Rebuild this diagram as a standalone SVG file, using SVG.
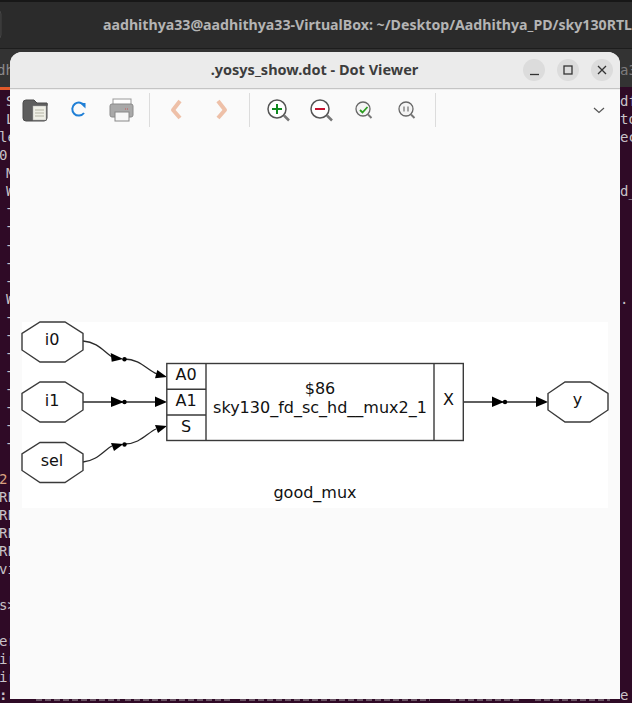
<svg xmlns="http://www.w3.org/2000/svg" width="632" height="703" viewBox="0 0 632 703">
<style>
.term{font-family:"DejaVu Sans Mono","Liberation Mono",monospace;font-size:14px;fill:#c9c3c8}
.g{font-family:"DejaVu Sans",sans-serif;font-size:16px;fill:#111;text-anchor:middle}
.n{fill:#fff;stroke:#3a3a3a;stroke-width:1.4}
.e{fill:none;stroke:#2a2a2a;stroke-width:1.3}
.ah{fill:#000}
.sep{stroke:#dcdcdc;stroke-width:1}
.wb{fill:#dcdcdc}
.wi{fill:none;stroke:#333;stroke-width:1.3}
</style>
<rect width="632" height="703" fill="#2f0a26"/>
<rect width="632" height="48" fill="#2b2b2b"/>
<rect width="632" height="2" fill="#171717"/>
<rect x="-8" y="10" width="9" height="29" rx="4" fill="#333" stroke="#444"/>
<rect y="48" width="632" height="1" fill="#1d1d1d"/>
<rect y="49" width="632" height="38" fill="#333333"/>
<rect y="87" width="10" height="3" fill="#e0592a"/>
<text x="103" y="30" font-family="Noto Sans, Open Sans, sans-serif" font-weight="700" font-size="14" fill="#b4b4b4" textLength="529" lengthAdjust="spacingAndGlyphs">aadhithya33@aadhithya33-VirtualBox: ~/Desktop/Aadhithya_PD/sky130RTL</text>
<g id="terminal-left">
<text class="term" x="-3" y="75" fill-opacity="0.6">dh</text>
<text class="term" x="6" y="106">S</text>
<text class="term" x="6" y="124">L</text>
<text class="term" x="-1" y="142">le</text>
<text class="term" x="-1" y="160">0</text>
<text class="term" x="6" y="178">M</text>
<text class="term" x="6" y="196">W</text>
<text class="term" x="5" y="213">-</text>
<text class="term" x="5" y="231">-</text>
<text class="term" x="5" y="250">-</text>
<text class="term" x="5" y="268">-</text>
<text class="term" x="5" y="286">-</text>
<text class="term" x="6" y="304">W</text>
<text class="term" x="5" y="322">-</text>
<text class="term" x="5" y="340">-</text>
<text class="term" x="5" y="358">-</text>
<text class="term" x="5" y="376">-</text>
<text class="term" x="5" y="394">-</text>
<text class="term" x="5" y="412">-</text>
<text class="term" x="5" y="430">-</text>
<text class="term" x="5" y="448">-</text>
<text class="term" x="-1" y="484" style="fill:#d9a080">2</text>
<text class="term" x="-1" y="502">RE</text>
<text class="term" x="-1" y="520">RE</text>
<text class="term" x="-1" y="538">RE</text>
<text class="term" x="-1" y="556">RE</text>
<text class="term" x="-1" y="574">vi</text>
<text class="term" x="-1" y="610">s&gt;</text>
<text class="term" x="-1" y="646">er</text>
<text class="term" x="-1" y="664">ir</text>
<text class="term" x="-1" y="682">ir</text>
<text class="term" x="-1" y="700" font-weight="700">:</text>
</g>
<g id="terminal-right">
<text class="term" x="620" y="75" fill-opacity="0.5">a3</text>
<text class="term" x="620" y="106">df</text>
<text class="term" x="620" y="124">to</text>
<text class="term" x="620" y="142">ec</text>
<text class="term" x="620" y="196">d_</text>
<text class="term" x="620" y="304">.</text>
<text class="term" x="620" y="700">e /</text>
</g>
<path d="M36 700H120M125 700H230M240 700H430M450 700H520M535 700H610" stroke="#a99fa6" stroke-width="1.200" stroke-dasharray="6 3" fill="none"/>
<g id="window">
<path d="M10 699V64a12 12 0 0 1 12-12H608a12 12 0 0 1 12 12V699Z" fill="#fafafa"/>
<path d="M10 88V64a12 12 0 0 1 12-12H608a12 12 0 0 1 12 12V88Z" fill="#ebebeb"/>
<rect x="10" y="88" width="610" height="1.2" fill="#c4c4c4"/>
<text x="314.500" y="75" text-anchor="middle" font-family="Noto Sans, Open Sans, sans-serif" font-weight="700" font-size="14.500" fill="#3d3d3d">.yosys_show.dot - Dot Viewer</text>
<circle class="wb" cx="534" cy="70" r="11"/><circle class="wb" cx="568" cy="70" r="11"/><circle class="wb" cx="602" cy="70" r="11"/>
<path class="wi" d="M530 74.500H539"/>
<rect class="wi" x="564" y="66" width="8" height="8"/>
<path class="wi" d="M598 66L606 74M606 66L598 74"/>
</g>
<g id="toolbar">
<path d="M23 103a3 3 0 0 1 3-3h8l3 3h10a3 3 0 0 1 0 3v12a3 3 0 0 1-3 3H26a3 3 0 0 1-3-3Z" fill="#5e5e5e" stroke="#4a4a4a"/>
<rect x="33" y="106" width="13" height="14" fill="#efefe6" stroke="#aaa" stroke-width="0.5"/>
<path d="M35 110h9M35 113h9M35 116h9" stroke="#b5b5a5"/>
<path d="M84.500 106A6.500 6.500 0 1 0 84 113" fill="none" stroke="#1f7fd6" stroke-width="2"/>
<path d="M80 103h5.500v5.500Z" fill="#1f7fd6"/>
<rect x="113" y="99" width="18" height="8" fill="#fff" stroke="#999"/>
<rect x="110" y="104" width="23" height="13" rx="2" fill="#a9a9a9" stroke="#8a8a8a"/>
<rect x="115" y="112" width="14" height="9" fill="#f7f7f7" stroke="#888"/>
<path d="M125 109h4" stroke="#c55" stroke-dasharray="1 1"/>
<path d="M180 101L173 110L180 118" fill="none" stroke="#eec0a8" stroke-width="4" stroke-linejoin="round"/>
<path d="M218 101L225 110L218 118" fill="none" stroke="#eec0a8" stroke-width="4" stroke-linejoin="round"/>
<line class="sep" x1="149.500" y1="93" x2="149.500" y2="127"/>
<line class="sep" x1="249.500" y1="93" x2="249.500" y2="127"/>
<line class="sep" x1="435.500" y1="93" x2="435.500" y2="127"/>
<circle cx="277" cy="109" r="9" fill="#fff" stroke="#555" stroke-width="1.500"/>
<path d="M284 115.500L289 120.500" stroke="#777" stroke-width="2.500"/>
<path d="M272 109h10M277 104v10" stroke="#0f8a1f" stroke-width="2"/>
<circle cx="320" cy="109" r="9" fill="#fff" stroke="#555" stroke-width="1.500"/>
<path d="M327 115.500L332 120.500" stroke="#777" stroke-width="2.500"/>
<path d="M315 109h10" stroke="#c8102e" stroke-width="2"/>
<circle cx="363" cy="109" r="7" fill="#f4f4f4" stroke="#666" stroke-width="1.300"/>
<path d="M368 114.500L371.500 118" stroke="#777" stroke-width="2"/>
<path d="M360 110l2.500 2.500 5-5.500" fill="none" stroke="#2a9d1f" stroke-width="1.800"/>
<circle cx="406" cy="109" r="7" fill="#f4f4f4" stroke="#666" stroke-width="1.300"/>
<path d="M411 114.500L414.500 118" stroke="#777" stroke-width="2"/>
<path d="M404 106.500v5M408 106.500v5" stroke="#555"/>
<path d="M594 108l5 4.500 5-4.500" fill="none" stroke="#555" stroke-width="1.200"/>
</g>
<rect id="canvas" x="22" y="322" width="586" height="186" fill="#fff"/>
<g id="connectors">
<path class="e" d="M83 341C98 342 104 352 112 357"/>
<path class="e" d="M124.500 359C140 359 147 370 157 374"/>
<path class="e" d="M83 402H156"/>
<path class="e" d="M83 462C97 461 104 450 112 446"/>
<path class="e" d="M124.500 444C140 444 147 433 156 429"/>
<path class="e" d="M463.500 402H537"/>
<polygon class="ah" points="110.700,353 123.300,359 111.700,361.700"/>
<circle class="ah" cx="124.500" cy="359.300" r="2.200"/>
<polygon class="ah" points="157.300,370 167,377 155,378.300"/>
<polygon class="ah" points="111,396.500 124,402 111,407"/>
<circle class="ah" cx="124.500" cy="402" r="2.200"/>
<polygon class="ah" points="155,396.500 167,402 155,407"/>
<polygon class="ah" points="111,443 123.500,444 114,451"/>
<circle class="ah" cx="124.500" cy="444.500" r="2.200"/>
<polygon class="ah" points="155,425 167,426 158,433"/>
<polygon class="ah" points="492,396.500 504,402 492,407"/>
<circle class="ah" cx="505" cy="402" r="2.200"/>
<polygon class="ah" points="536,396.500 548,402 536,407"/>
</g>
<g id="i0"><polygon class="n" points="40,322 65,322 83,333.500 83,350 65,362 40,362 22,350 22,333.500"/><text class="g" x="52" y="344.500">i0</text></g>
<g id="i1"><polygon class="n" points="40,382 65,382 83,393.500 83,410 65,422 40,422 22,410 22,393.500"/><text class="g" x="52" y="405.500">i1</text></g>
<g id="sel"><polygon class="n" points="40,442.500 65,442.500 83,454 83,470.500 65,482.500 40,482.500 22,470.500 22,454"/><text class="g" x="52" y="465.500">sel</text></g>
<g id="y"><polygon class="n" points="565,382 590,382 608,393.500 608,410 590,422 565,422 548,410 548,393.500"/><text class="g" x="577.500" y="405">y</text></g>
<g id="mux">
<rect class="n" x="166.800" y="363.500" width="296.500" height="77"/>
<path class="n" d="M206 363.500V440.500M434 363.500V440.500M166.800 389.300H206M166.800 415H206"/>
<text class="g" x="186" y="379.500">A0</text>
<text class="g" x="186" y="405.500">A1</text>
<text class="g" x="186" y="431.500">S</text>
<text class="g" x="320" y="393.500">$86</text>
<text class="g" x="320" y="412.500">sky130_fd_sc_hd__mux2_1</text>
<text class="g" x="448.500" y="405">X</text>
</g>
<text class="g" id="title" x="315" y="498">good_mux</text>
</svg>
